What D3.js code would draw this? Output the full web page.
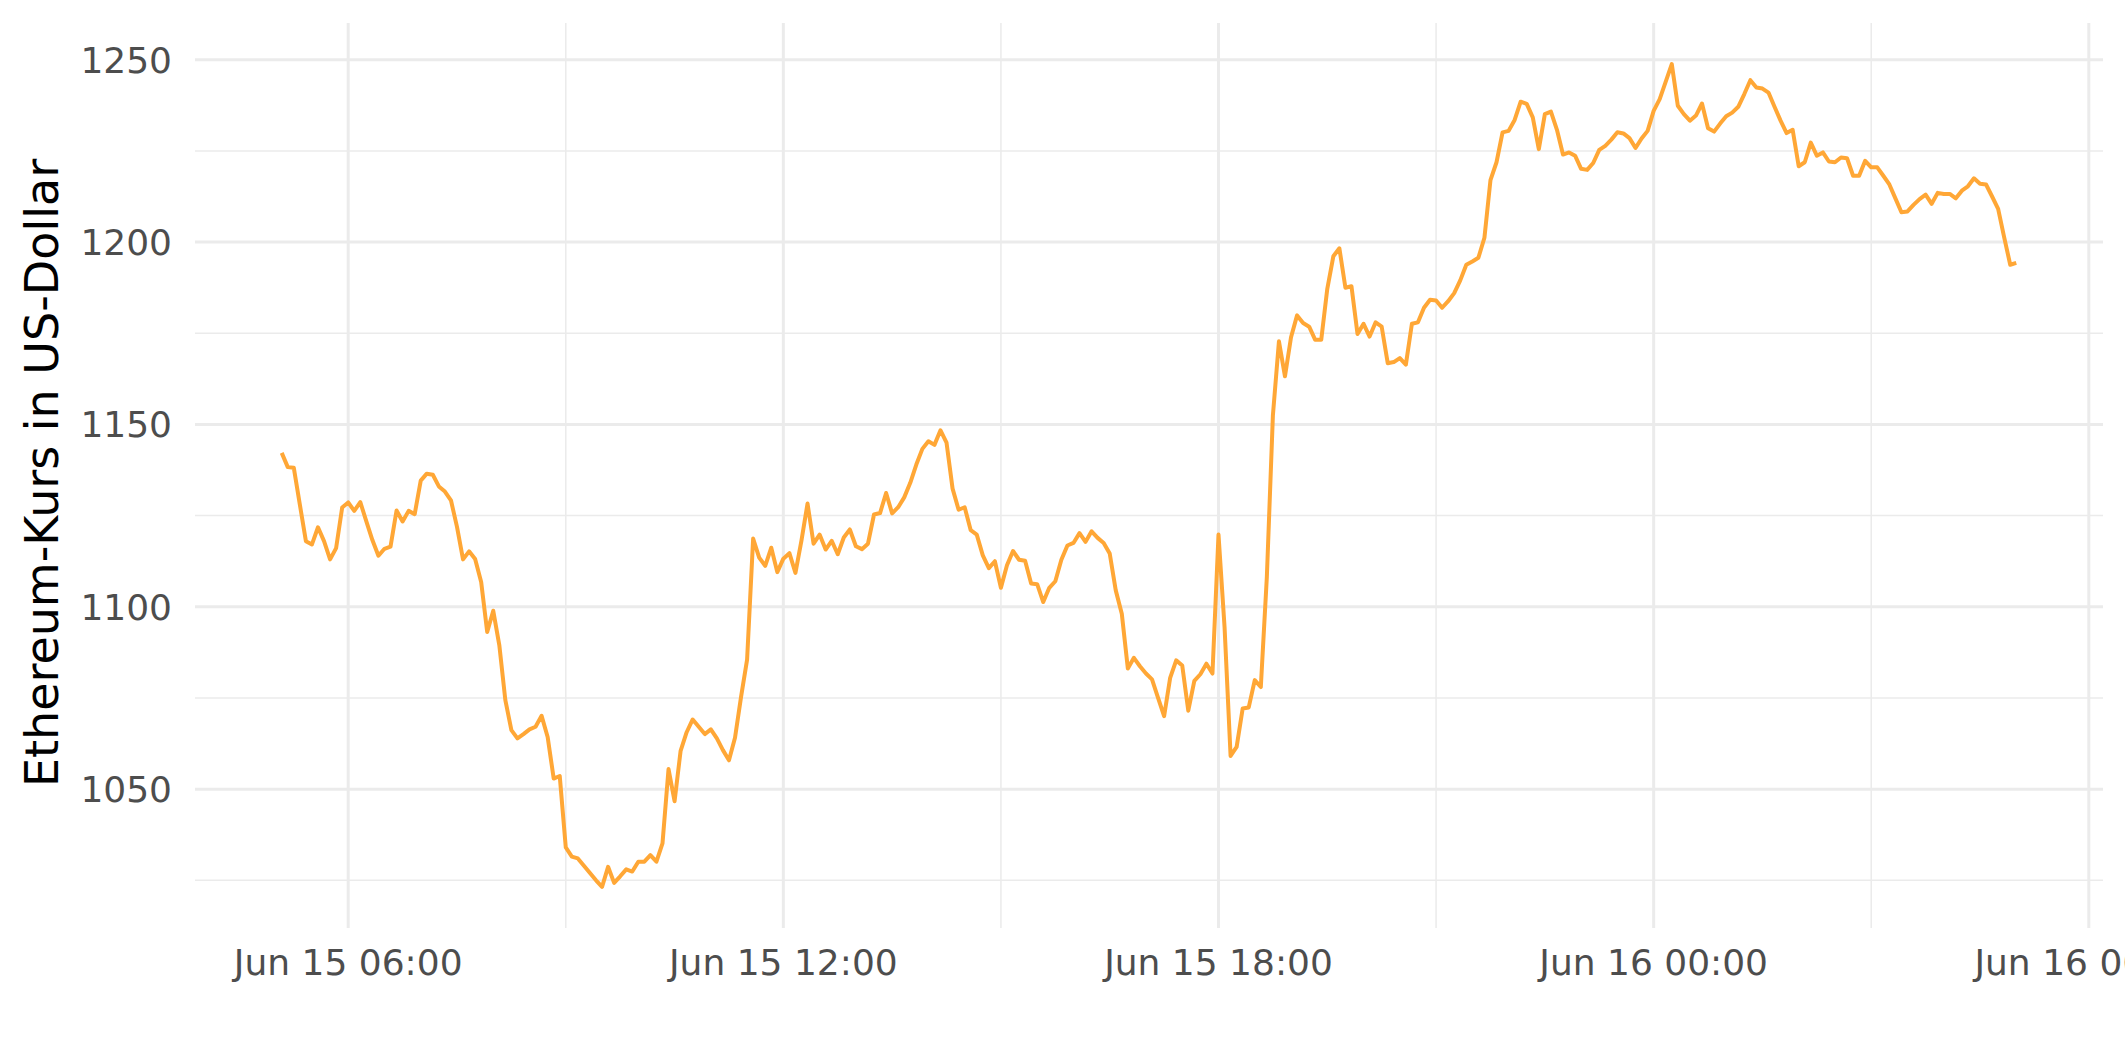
<!DOCTYPE html>
<html>
<head>
<meta charset="utf-8">
<script src="https://cdn.jsdelivr.net/npm/d3@7/dist/d3.min.js"></script>
<style>
  html, body { margin: 0; padding: 0; background: #ffffff; }
  svg { display: block; }
  text { font-family: "DejaVu Sans", sans-serif; }
</style>
</head>
<body>
<svg id="chart" width="2125" height="1062"></svg>
<script>
// ---------- DATA ----------
const startTime = "2022-06-15T05:05:00Z";   // first observation (UTC)
const stepMinutes = 5;                       // sampling interval
const prices = [
  1142.2, 1138.3, 1138.1, 1128.0, 1118.0, 1117.1, 1121.8, 1118.0, 1113.0, 1116.1,
  1127.2, 1128.6, 1126.3, 1128.7, 1123.4, 1118.3, 1114.0, 1115.9, 1116.5, 1126.4,
  1123.4, 1126.3, 1125.4, 1134.6, 1136.5, 1136.2, 1133.0, 1131.6, 1129.2, 1121.9,
  1113.0, 1115.2, 1113.1, 1106.8, 1093.1, 1098.9, 1089.5, 1074.4, 1066.2, 1063.9,
  1065.1, 1066.4, 1067.1, 1070.1, 1064.3, 1052.9, 1053.6, 1034.0, 1031.5, 1031.0,
  1029.0, 1027.0, 1025.0, 1023.2, 1028.7, 1024.3, 1026.1, 1028.0, 1027.4, 1030.1,
  1030.1, 1031.9, 1030.1, 1035.1, 1055.5, 1046.7, 1060.5, 1065.6, 1069.1, 1067.1,
  1065.1, 1066.4, 1063.9, 1060.7, 1057.9, 1064.1, 1075.3, 1085.5, 1118.7, 1113.5,
  1111.2, 1116.2, 1109.5, 1113.2, 1114.7, 1109.3, 1118.2, 1128.3, 1117.3, 1119.8,
  1115.7, 1118.1, 1114.4, 1119.0, 1121.2, 1116.6, 1115.8, 1117.3, 1125.3, 1125.7,
  1131.2, 1125.6, 1127.3, 1130.0, 1134.0, 1139.0, 1143.3, 1145.4, 1144.4, 1148.4,
  1145.0, 1132.4, 1126.6, 1127.3, 1121.0, 1119.8, 1114.1, 1110.6, 1112.5, 1105.2,
  1111.4, 1115.3, 1112.9, 1112.6, 1106.4, 1106.2, 1101.3, 1105.2, 1107.0, 1112.9,
  1116.8, 1117.5, 1120.2, 1117.8, 1120.7, 1118.9, 1117.5, 1114.6, 1104.5, 1098.1,
  1083.1, 1086.0, 1083.7, 1081.7, 1080.1, 1075.0, 1070.0, 1080.5, 1085.3, 1083.9,
  1071.5, 1079.7, 1081.5, 1084.4, 1081.7, 1119.8, 1094.5, 1059.1, 1061.6, 1072.1,
  1072.4, 1079.9, 1078.0, 1108.2, 1152.5, 1172.8, 1163.2, 1173.9, 1179.9, 1177.8,
  1176.8, 1173.2, 1173.2, 1187.2, 1196.1, 1198.3, 1187.5, 1187.9, 1174.8, 1177.6,
  1174.1, 1178.0, 1176.8, 1166.8, 1167.1, 1168.2, 1166.4, 1177.6, 1178.0, 1182.0,
  1184.2, 1184.0, 1182.0, 1183.8, 1186.0, 1189.5, 1193.8, 1194.7, 1195.7, 1201.2,
  1217.0, 1221.9, 1230.1, 1230.5, 1233.5, 1238.5, 1237.9, 1234.2, 1225.5, 1235.1,
  1235.8, 1230.8, 1224.0, 1224.6, 1223.7, 1220.1, 1219.8, 1221.7, 1225.3, 1226.4,
  1228.1, 1230.1, 1229.8, 1228.5, 1225.8, 1228.4, 1230.5, 1236.0, 1239.2, 1244.0,
  1248.8, 1237.4, 1235.1, 1233.3, 1234.7, 1238.0, 1231.2, 1230.3, 1232.5, 1234.5,
  1235.5, 1237.1, 1240.6, 1244.4, 1242.4, 1242.1, 1241.0, 1237.1, 1233.3, 1229.9,
  1230.8, 1220.8, 1221.9, 1227.3, 1223.7, 1224.6, 1222.1, 1221.9, 1223.2, 1223.0,
  1218.2, 1218.2, 1222.3, 1220.5, 1220.5, 1218.2, 1215.8, 1212.0, 1208.2, 1208.4,
  1210.2, 1211.8, 1213.0, 1210.5, 1213.5, 1213.2, 1213.2, 1212.0, 1214.1, 1215.3,
  1217.5, 1216.0, 1215.8, 1212.5, 1209.1, 1201.3, 1193.8, 1194.3
];
const xMajorTicks = ["2022-06-15T06:00:00Z", "2022-06-15T12:00:00Z", "2022-06-15T18:00:00Z",
                     "2022-06-16T00:00:00Z", "2022-06-16T06:00:00Z"];
const xMinorTicks = ["2022-06-15T09:00:00Z", "2022-06-15T15:00:00Z",
                     "2022-06-15T21:00:00Z", "2022-06-16T03:00:00Z"];
const yMajorTicks = [1050, 1100, 1150, 1200, 1250];
const yMinorTicks = [1025, 1075, 1125, 1175, 1225];
const yTitle = "Ethereum-Kurs in US-Dollar";

// ---------- BUILD ----------
const t0 = new Date(startTime).getTime();
const data = prices.map((p, i) => ({ t: new Date(t0 + i * stepMinutes * 60000), v: p }));

const panel = { left: 195, right: 2103, top: 23, bottom: 928 };

const tExt = d3.extent(data, d => d.t.getTime());
const tPad = (tExt[1] - tExt[0]) * 0.05;
const x = d3.scaleUtc()
  .domain([new Date(tExt[0] - tPad), new Date(tExt[1] + tPad)])
  .range([panel.left, panel.right]);

const vExt = d3.extent(data, d => d.v);
const vPad = (vExt[1] - vExt[0]) * 0.05;
const y = d3.scaleLinear()
  .domain([vExt[0] - vPad, vExt[1] + vPad])
  .range([panel.bottom, panel.top]);

const svg = d3.select("#chart");
svg.append("rect").attr("width", 2125).attr("height", 1062).attr("fill", "#ffffff");

const grid = svg.append("g");
const gridColor = "#ebebeb";

// minor grid
grid.selectAll("line.ymin").data(yMinorTicks).join("line")
  .attr("x1", panel.left).attr("x2", panel.right)
  .attr("y1", d => y(d)).attr("y2", d => y(d))
  .attr("stroke", gridColor).attr("stroke-width", 1.5);
grid.selectAll("line.xmin").data(xMinorTicks.map(s => new Date(s))).join("line")
  .attr("y1", panel.top).attr("y2", panel.bottom)
  .attr("x1", d => x(d)).attr("x2", d => x(d))
  .attr("stroke", gridColor).attr("stroke-width", 1.5);

// major grid
grid.selectAll("line.ymaj").data(yMajorTicks).join("line")
  .attr("x1", panel.left).attr("x2", panel.right)
  .attr("y1", d => y(d)).attr("y2", d => y(d))
  .attr("stroke", gridColor).attr("stroke-width", 3);
grid.selectAll("line.xmaj").data(xMajorTicks.map(s => new Date(s))).join("line")
  .attr("y1", panel.top).attr("y2", panel.bottom)
  .attr("x1", d => x(d)).attr("x2", d => x(d))
  .attr("stroke", gridColor).attr("stroke-width", 3);

// line
const line = d3.line().x(d => x(d.t)).y(d => y(d.v));
svg.append("path")
  .datum(data)
  .attr("d", line)
  .attr("fill", "none")
  .attr("stroke", "#ffa736")
  .attr("stroke-width", 4)
  .attr("stroke-linejoin", "round")
  .attr("stroke-linecap", "butt");

// y tick labels
const fmtX = d3.utcFormat("%b %d %H:%M");
svg.append("g").selectAll("text").data(yMajorTicks).join("text")
  .attr("x", 172).attr("y", d => y(d))
  .attr("dy", "0.36em")
  .attr("text-anchor", "end")
  .attr("font-size", 36)
  .attr("fill", "#4d4d4d")
  .text(d => d);

// x tick labels
svg.append("g").selectAll("text").data(xMajorTicks.map(s => new Date(s))).join("text")
  .attr("x", d => x(d)).attr("y", 975)
  .attr("text-anchor", "middle")
  .attr("font-size", 36)
  .attr("fill", "#4d4d4d")
  .text(d => fmtX(d));

// y title
svg.append("text")
  .attr("transform", `translate(58,473) rotate(-90)`)
  .attr("text-anchor", "middle")
  .attr("font-size", 46)
  .attr("fill", "#000000")
  .text(yTitle);
</script>
</body>
</html>
